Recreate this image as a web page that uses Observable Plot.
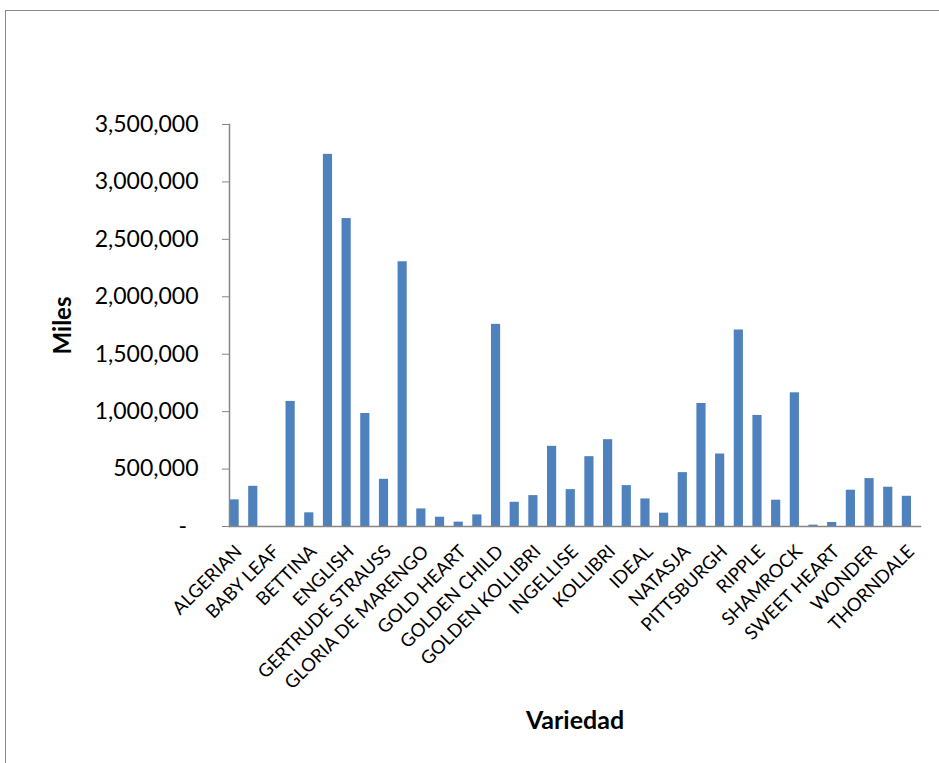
<!DOCTYPE html>
<html>
<head>
<meta charset="utf-8">
<script src="https://cdn.jsdelivr.net/npm/d3@7"></script>
<script src="https://cdn.jsdelivr.net/npm/@observablehq/plot@0.6"></script>
<style>
  html, body { margin: 0; padding: 0; background: #fff; overflow: hidden; }
  #wrap { position: relative; width: 939px; height: 763px; }
  #border { position: absolute; left: 5px; top: 10px; width: 1000px; height: 900px; border: 1.5px solid #8a8a8a; box-sizing: border-box; }
  #chart { position: absolute; left: 0; top: 0; }
</style>
</head>
<body>
<div id="wrap"><div id="border"></div><div id="chart"></div></div>
<script>
// Category labels (only every other category is labelled on the axis)
const variedades = [
  "ALGERIAN", null, "BABY LEAF", null, "BETTINA", null, "ENGLISH", null,
  "GERTRUDE STRAUSS", null, "GLORIA DE MARENGO", null, "GOLD HEART", null,
  "GOLDEN CHILD", null, "GOLDEN KOLLIBRI", null, "INGELLISE", null,
  "KOLLIBRI", null, "IDEAL", null, "NATASJA", null, "PITTSBURGH", null,
  "RIPPLE", null, "SHAMROCK", null, "SWEET HEART", null, "WONDER", null,
  "THORNDALE"
];
// Values (Miles)
const miles = [
  232000, 350000, 0, 1089000, 119000, 3240000, 2681000, 984000, 411000,
  2305000, 153000, 81000, 38000, 101000, 1760000, 211000, 269000, 698000,
  321000, 608000, 756000, 356000, 240000, 116000, 469000, 1071000, 631000,
  1711000, 967000, 229000, 1164000, 12000, 35000, 316000, 417000, 342000, 263000
];
const yTicks = [0, 500000, 1000000, 1500000, 2000000, 2500000, 3000000, 3500000];

const data = miles.map((v, i) => ({i, v}));
const idx = d3.range(miles.length);
const fmt = d3.format(",");

const chart = Plot.plot({
  width: 939,
  height: 763,
  marginLeft: 229,
  marginRight: 19,
  marginTop: 124,
  marginBottom: 237,
  style: {fontFamily: "Lato, 'Open Sans', sans-serif", color: "#000", background: "transparent"},
  x: {type: "band", domain: idx, padding: 0, round: false},
  y: {domain: [0, 3500000]},
  marks: [
    Plot.barY(data, {x: "i", y: "v", fill: "#4F81BD", insetLeft: 0.5, insetRight: 9}),
    Plot.axisY({
      ticks: yTicks,
      tickFormat: d => d === 0 ? "-\u2002" : fmt(d),
      tickSize: 7, tickPadding: 24, fontSize: 23, stroke: "#868686", label: null
    }),
    Plot.axisX({
      ticks: idx.filter(i => variedades[i] != null),
      tickFormat: i => variedades[i],
      tickRotate: -45, tickSize: 0, tickPadding: 22, fontSize: 18.5, label: null
    }),
    Plot.frame({anchor: "left", stroke: "#868686", strokeWidth: 1.5}),
    Plot.frame({anchor: "bottom", stroke: "#868686", strokeWidth: 1.5}),
    Plot.text(["Miles"], {frameAnchor: "left", textAnchor: "middle", lineAnchor: "middle", dx: -166, rotate: -90, fontSize: 24, fontWeight: "bold"}),
    Plot.text(["Variedad"], {frameAnchor: "bottom", lineAnchor: "middle", dy: 194, fontSize: 25, fontWeight: "bold"})
  ]
});
document.getElementById("chart").appendChild(chart);
</script>
</body>
</html>
